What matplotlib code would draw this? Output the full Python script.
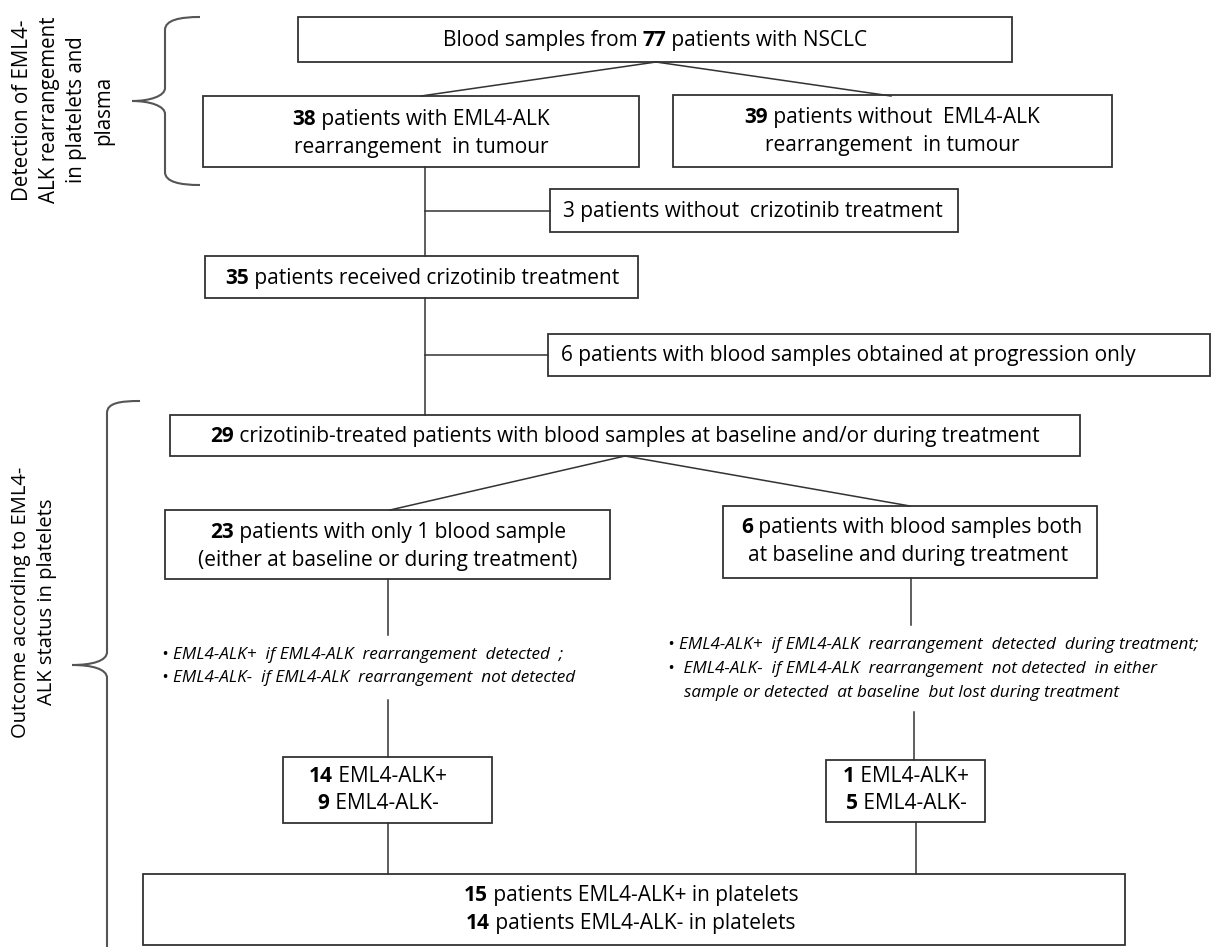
import matplotlib.pyplot as plt
from matplotlib.patches import Rectangle, PathPatch
from matplotlib.path import Path

plt.rcParams['font.family'] = ['Open Sans', 'DejaVu Sans']

# counts shown in the flowchart
n_total = 77
n_alk_pos, n_alk_neg = 38, 39
n_no_crizo = 3
n_crizo = 35
n_prog_only = 6
n_treated = 29
n_one_sample, n_two_samples = 23, 6
one_pos, one_neg = 14, 9
two_pos, two_neg = 1, 5
plt_pos, plt_neg = 15, 14

left_rules = ["\u2022 EML4-ALK+  if EML4-ALK  rearrangement  detected  ;",
              "\u2022 EML4-ALK-  if EML4-ALK  rearrangement  not detected"]
right_rules = ["\u2022 EML4-ALK+  if EML4-ALK  rearrangement  detected  during treatment;",
               "\u2022  EML4-ALK-  if EML4-ALK  rearrangement  not detected  in either",
               "sample or detected  at baseline  but lost during treatment"]

fig = plt.figure(figsize=(12.2, 9.47), dpi=100)
ax = fig.add_axes([0, 0, 1, 1])
ax.set_xlim(0, 1220)
ax.set_ylim(947, 0)
ax.axis('off')
renderer = fig.canvas.get_renderer()

EDGE = '#333333'
FS = 15


def box(x0, y0, x1, y1):
    ax.add_patch(Rectangle((x0, y0), x1 - x0, y1 - y0, fill=False,
                           ec=EDGE, lw=1.3))


def line(xs, ys):
    ax.plot(xs, ys, color=EDGE, lw=1.1)


def rich(x, y, parts, size=FS):
    # parts: list of (text, bold); centred on x
    texts = []
    for s, b in parts:
        t = ax.text(0, y, s, fontsize=size, va='center', ha='left',
                    fontweight='bold' if b else 'normal')
        texts.append(t)
    widths = [t.get_window_extent(renderer).width for t in texts]
    cur = x - sum(widths) / 2
    for t, w in zip(texts, widths):
        t.set_x(cur)
        cur += w


# boxes
box(298, 17, 1012, 62)
box(203, 96, 639, 167)
box(673, 95, 1112, 167)
box(550, 189, 958, 232)
box(205, 256, 638, 298)
box(548, 334, 1210, 376)
box(170, 415, 1080, 456)
box(165, 510, 610, 579)
box(723, 506, 1097, 578)
box(283, 757, 492, 823)
box(826, 760, 985, 822)
box(143, 874, 1125, 945)

# connectors
line([656, 421], [62, 96])
line([656, 891], [62, 96])
line([425, 425], [167, 256])
line([425, 550], [211, 211])
line([425, 425], [298, 415])
line([425, 548], [355, 355])
line([625, 390], [456, 510])
line([625, 910], [456, 506])
line([388, 388], [579, 635])
line([388, 388], [700, 757])
line([388, 388], [823, 874])
line([911, 911], [578, 625])
line([914, 914], [712, 760])
line([916, 916], [822, 874])

# box texts
rich(655, 40, [("Blood samples from ", False), (str(n_total), True),
               (" patients with NSCLC", False)])
rich(421, 119, [(str(n_alk_pos), True), (" patients with EML4-ALK", False)])
rich(421, 147, [("rearrangement  in tumour", False)])
rich(892, 117, [(str(n_alk_neg), True), (" patients without  EML4-ALK", False)])
rich(892, 145, [("rearrangement  in tumour", False)])
rich(753, 211, [(f"{n_no_crizo} patients without  crizotinib treatment", False)])
rich(422, 278, [(str(n_crizo), True), (" patients received crizotinib treatment", False)])
rich(848, 355, [(f"{n_prog_only} patients with blood samples obtained at progression only", False)])
rich(625, 436, [(str(n_treated), True),
                (" crizotinib-treated patients with blood samples at baseline and/or during treatment", False)])
rich(388, 532, [(str(n_one_sample), True), (" patients with only 1 blood sample", False)])
rich(388, 560, [("(either at baseline or during treatment)", False)])
rich(912, 527, [(str(n_two_samples), True), (" patients with blood samples both", False)])
rich(908, 555, [("at baseline and during treatment", False)])
rich(378, 776, [(str(one_pos), True), (" EML4-ALK+", False)])
rich(378, 803, [(str(one_neg), True), (" EML4-ALK-", False)])
rich(906, 776, [(str(two_pos), True), (" EML4-ALK+", False)])
rich(906, 803, [(str(two_neg), True), (" EML4-ALK-", False)])
rich(631, 895, [(str(plt_pos), True), (" patients EML4-ALK+ in platelets", False)])
rich(631, 923, [(str(plt_neg), True), (" patients EML4-ALK- in platelets", False)])

# rule notes
NS = 12.3
for i, s in enumerate(left_rules):
    ax.text(162, 655 + 23 * i, s, fontsize=NS, style='italic',
            va='center', ha='left')
for i, s in enumerate(right_rules):
    ax.text(668 if i < 2 else 684, 645 + 24 * i, s, fontsize=NS,
            style='italic', va='center', ha='left')

# braces
BR = '#555555'
top_brace = Path([(200, 17), (180, 17), (165, 20), (165, 30),
                  (165, 88),
                  (165, 96), (150, 101), (132, 101),
                  (150, 101), (165, 106), (165, 114),
                  (165, 172),
                  (165, 182), (180, 185), (200, 185)],
                 [Path.MOVETO, Path.CURVE4, Path.CURVE4, Path.CURVE4,
                  Path.LINETO,
                  Path.CURVE4, Path.CURVE4, Path.CURVE4,
                  Path.CURVE4, Path.CURVE4, Path.CURVE4,
                  Path.LINETO,
                  Path.CURVE4, Path.CURVE4, Path.CURVE4])
ax.add_patch(PathPatch(top_brace, fill=False, ec=BR, lw=1.5))
low_brace = Path([(140, 401), (120, 401), (107, 403), (107, 413),
                  (107, 652),
                  (107, 661), (92, 665), (72, 665),
                  (92, 665), (107, 669), (107, 678),
                  (107, 947)],
                 [Path.MOVETO, Path.CURVE4, Path.CURVE4, Path.CURVE4,
                  Path.LINETO,
                  Path.CURVE4, Path.CURVE4, Path.CURVE4,
                  Path.CURVE4, Path.CURVE4, Path.CURVE4,
                  Path.LINETO])
ax.add_patch(PathPatch(low_brace, fill=False, ec=BR, lw=1.5))

ax.text(63, 110, "Detection of EML4-\nALK rearrangement\nin platelets and\nplasma",
        rotation=90, fontsize=14.8, ha='center', va='center',
        multialignment='center', linespacing=1.38)
ax.text(34, 602, "Outcome according to EML4-\nALK status in platelets",
        rotation=90, fontsize=14.5, ha='center', va='center',
        multialignment='center', linespacing=1.35)

fig.savefig('out.png', dpi=100)
